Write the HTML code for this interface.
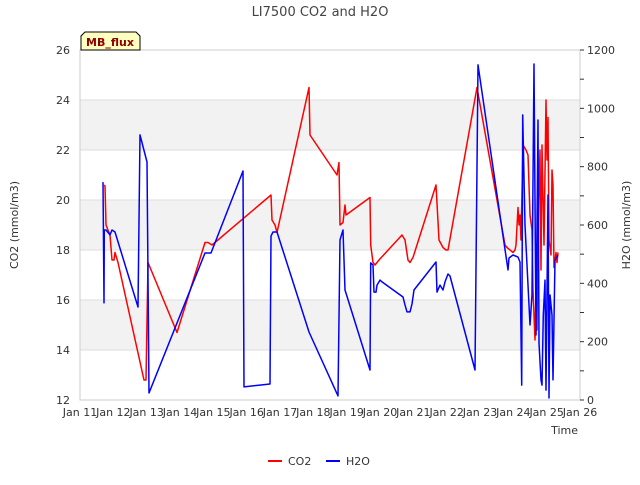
<!DOCTYPE html>
<html><head><meta charset="utf-8"><style>
body{margin:0;background:#fff;font-family:"Liberation Sans","DejaVu Sans",sans-serif}
svg text{font-family:"DejaVu Sans","Liberation Sans",sans-serif}
</style></head><body>
<svg id="c" width="640" height="480" xmlns="http://www.w3.org/2000/svg"></svg>
<script>
const dayLabels=["Jan 11","Jan 12","Jan 13","Jan 14","Jan 15","Jan 16","Jan 17","Jan 18","Jan 19","Jan 20","Jan 21","Jan 22","Jan 23","Jan 24","Jan 25","Jan 26"];
const co2Ticks=[12,14,16,18,20,22,24,26];
const h2oTicks=[0,200,400,600,800,1000,1200];
const co2Days=[0.72,0.75,0.78,0.9,0.96,1.02,1.05,1.14,1.92,1.98,2.04,2.91,3.75,3.84,3.96,5.73,5.76,5.85,5.91,6.87,6.9,7.71,7.77,7.8,7.89,7.95,7.98,8.7,8.72,8.79,8.85,8.97,9.66,9.75,9.84,9.9,9.99,10.68,10.77,10.89,10.98,11.04,11.91,12.75,12.81,12.99,13.05,13.08,13.14,13.17,13.2,13.23,13.29,13.38,13.44,13.5,13.56,13.59,13.65,13.68,13.71,13.74,13.8,13.83,13.86,13.92,13.98,14.01,14.04,14.07,14.13,14.16,14.19,14.22,14.28,14.31,14.34];
const co2Vals=[20.6,20.56,19.0,18.6,17.6,17.6,17.9,17.5,12.8,12.8,17.5,14.7,18.3,18.3,18.2,20.2,19.2,19.0,18.7,24.5,22.6,21.0,21.5,19.0,19.1,19.8,19.4,20.1,18.2,17.5,17.4,17.6,18.6,18.4,17.6,17.5,17.7,20.6,18.4,18.1,18.0,18.0,24.5,18.2,18.1,17.9,18.0,18.2,19.7,19.0,19.4,18.4,22.2,22.0,21.8,19.4,18.8,16.4,14.4,16.4,14.8,18.8,22.0,17.2,22.2,18.2,24.0,21.6,23.3,18.4,17.8,21.2,20.6,17.3,17.9,17.5,17.9];
const h2oDays=[0.69,0.72,0.73,0.78,0.9,0.96,1.05,1.74,1.8,2.01,2.07,3.75,3.93,4.89,4.92,5.7,5.73,5.79,5.91,6.87,7.74,7.8,7.89,7.95,8.7,8.72,8.79,8.82,8.88,8.91,9.0,9.06,9.69,9.75,9.81,9.9,9.96,10.02,10.68,10.71,10.8,10.89,10.95,11.04,11.1,11.85,11.94,12.84,12.87,12.99,13.14,13.2,13.25,13.28,13.35,13.5,13.56,13.62,13.68,13.74,13.77,13.83,13.86,13.9,13.95,13.98,14.04,14.07,14.1,14.16,14.19,14.25,14.34];
const h2oVals=[747,333,583,583,566,583,576,319,909,816,24,504,504,785,45,55,562,576,576,233,14,549,583,377,103,470,463,370,370,394,411,405,353,326,302,302,329,377,473,370,394,377,405,432,425,103,1149,446,487,497,490,473,51,977,600,257,360,1152,223,960,195,69,51,291,411,34,703,7,360,291,69,480,497];

const L=80,R=580,T=50,B=400,NS="http://www.w3.org/2000/svg";
const xS=d=>L+(R-L)*d/15;
const yC=v=>B-(B-T)*(v-12)/14;
const yH=v=>B-(B-T)*v/1200;
const svg=document.getElementById('c');
function el(tag,attrs,txt){const e=document.createElementNS(NS,tag);for(const k in attrs)e.setAttribute(k,attrs[k]);if(txt!=null)e.textContent=txt;svg.appendChild(e);return e;}

// bands
[[14,16],[18,20],[22,24]].forEach(b=>{
 const r=el('rect',{x:L,y:yC(b[1]),width:R-L,height:yC(b[0])-yC(b[1]),fill:'#f2f2f2'});
 
 
});
co2Ticks.forEach(t=>{
 const g=el('line',{x1:L,x2:R,y1:yC(t),y2:yC(t),stroke:'#dddddd','stroke-width':1});
 
 
 const tx=el('text',{x:L-10,y:yC(t)+4,'text-anchor':'end','font-size':11,fill:'#333'},t);
 
 
});
const fr=el('rect',{x:L,y:T,width:R-L,height:B-T,fill:'none',stroke:'#cccccc'});


h2oTicks.forEach(t=>{
 const tx=el('text',{x:R+7,y:yH(t)+4,'font-size':11,fill:'#333'},t);
 
 
 el('line',{x1:R,x2:R+4,y1:yH(t),y2:yH(t),stroke:'#333'});
 if(t<1200){const m=yH(t+100);el('line',{x1:R,x2:R+4,y1:m,y2:m,stroke:'#333'});}
});
dayLabels.forEach((d,i)=>{
 const tx=el('text',{x:xS(i),y:B+16,'text-anchor':'middle','font-size':11,fill:'#333'},d);
 
 
});
function line(days,vals,ys,col,name){
 const p=days.map((d,i)=>xS(d).toFixed(1)+','+ys(vals[i]).toFixed(1)).join(' ');
 const e=el('polyline',{points:p,fill:'none',stroke:col,'stroke-width':1.5,'stroke-linejoin':'round'});
 
 
}
line(co2Days,co2Vals,yC,'#ff0000','co2-line');
line(h2oDays,h2oVals,yH,'#0000ff','h2o-line');

let t=el('text',{x:320,y:16,'text-anchor':'middle','font-size':13,fill:'#444'},'LI7500 CO2 and H2O');

t=el('text',{x:18,y:225,'text-anchor':'middle','font-size':11,fill:'#333',transform:'rotate(-90 18 225)'},'CO2 (mmol/m3)');

t=el('text',{x:630,y:225,'text-anchor':'middle','font-size':11,fill:'#333',transform:'rotate(-90 630 225)'},'H2O (mmol/m3)');

t=el('text',{x:578,y:434,'text-anchor':'end','font-size':11,fill:'#333'},'Time');


t=el('path',{d:'M81,50 L81,36 L85,32 L136,32 L140,36 L140,50 Z',fill:'#ffffc0',stroke:'#000','stroke-width':1});

t=el('text',{x:110,y:46,'text-anchor':'middle','font-size':11,'font-weight':'bold',fill:'#8b0000'},'MB_flux');


t=el('line',{x1:268,x2:282,y1:461,y2:461,stroke:'#ff0000','stroke-width':2});

t=el('text',{x:288,y:465,'font-size':11,fill:'#333'},'CO2');

t=el('line',{x1:326,x2:340,y1:461,y2:461,stroke:'#0000ff','stroke-width':2});

t=el('text',{x:346,y:465,'font-size':11,fill:'#333'},'H2O');

</script>
</body></html>
